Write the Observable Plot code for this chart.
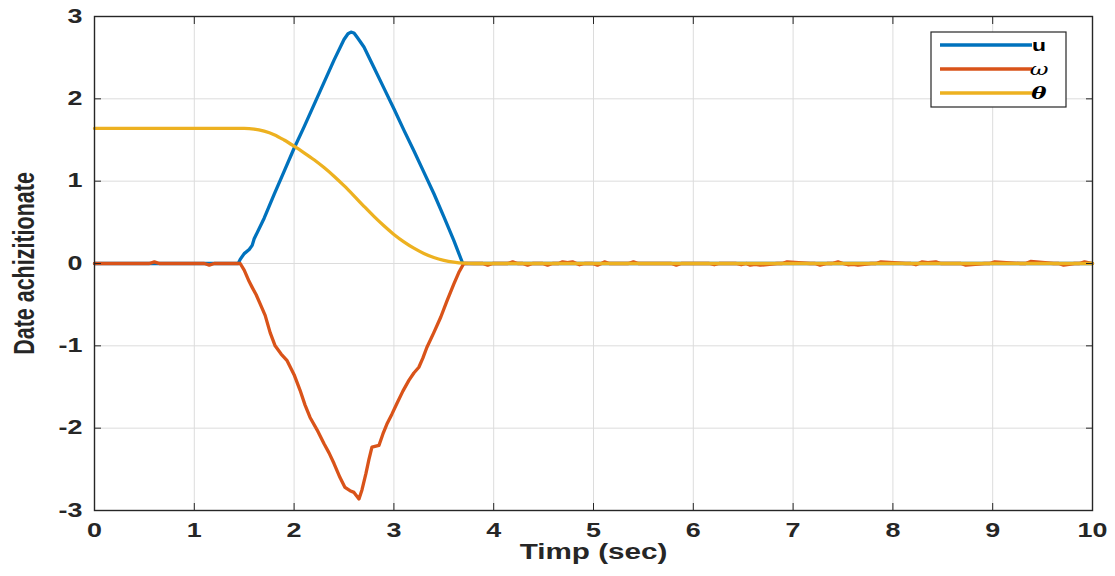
<!DOCTYPE html>
<html><head><meta charset="utf-8">
<script src="https://cdn.jsdelivr.net/npm/d3@7"></script>
<script src="https://cdn.jsdelivr.net/npm/@observablehq/plot@0.6"></script>
<style>
body{margin:0;background:#fff}
#chart{position:relative;width:1115px;height:576px}
</style>
</head><body><div id="chart"></div>
<script>
// ---- data ----
const xTicks = [0,1,2,3,4,5,6,7,8,9,10];
const yTicks = [-3,-2,-1,0,1,2,3];
const seriesNames = ["u","ω","θ"];
const seriesColors = ["#0072BD","#D95319","#EDB120"];

const uT = [0,1.44,1.46,1.50,1.55,1.58,1.60,1.70,1.80,1.90,2.00,2.10,2.20,2.30,2.40,2.50,2.54,2.57,2.60,2.63,2.66,2.70,2.80,2.90,3.00,3.10,3.20,3.30,3.40,3.50,3.60,3.69,10];
const uV = [0,0,0.05,0.12,0.17,0.22,0.30,0.55,0.84,1.12,1.40,1.66,1.93,2.20,2.47,2.72,2.79,2.81,2.80,2.75,2.70,2.63,2.38,2.13,1.88,1.62,1.37,1.11,0.85,0.57,0.28,0,0];

const wT = [0,0.55,0.60,0.65,1.10,1.15,1.20,1.44,1.46,1.50,1.55,1.58,1.62,1.66,1.71,1.76,1.81,1.87,1.93,2.00,2.06,2.11,2.16,2.23,2.30,2.35,2.40,2.46,2.51,2.56,2.60,2.65,2.68,2.72,2.75,2.78,2.85,2.89,2.93,2.98,3.03,3.09,3.15,3.20,3.25,3.29,3.33,3.40,3.47,3.53,3.60,3.65,3.70,
  3.89,3.94,3.99,4.14,4.19,4.24,4.29,4.34,4.39,4.49,4.54,4.59,4.65,4.69,4.74,4.79,4.83,4.86,4.91,4.99,5.04,5.08,5.11,5.16,5.35,5.40,5.45,5.78,5.83,5.88,6.16,6.21,6.26,6.43,6.48,6.53,6.57,6.62,6.67,6.84,6.89,6.94,7.17,7.22,7.27,7.34,7.39,7.45,7.50,7.55,7.60,7.65,7.78,7.83,7.88,8.13,8.18,8.23,8.26,8.29,8.35,8.43,8.48,8.63,8.68,8.73,8.92,8.97,9.02,9.28,9.33,9.38,9.61,9.66,9.71,9.82,9.87,9.92,10];
const wV = [0,0,0.02,0,0,-0.02,0,0,0.00,-0.08,-0.22,-0.29,-0.38,-0.49,-0.63,-0.84,-1.00,-1.10,-1.18,-1.35,-1.54,-1.72,-1.87,-2.02,-2.19,-2.30,-2.43,-2.60,-2.72,-2.76,-2.78,-2.86,-2.75,-2.55,-2.38,-2.23,-2.21,-2.07,-1.95,-1.83,-1.70,-1.55,-1.42,-1.33,-1.26,-1.15,-1.02,-0.84,-0.65,-0.46,-0.25,-0.11,0,
  0,-0.02,0,0,0.02,0,0,-0.02,0,0,-0.02,0,0,0.02,0.01,0.02,0,-0.015,0,0,-0.02,0,0.02,0,0,0.02,0,0,-0.02,0,0,-0.015,0,0,-0.015,0,-0.02,-0.01,-0.02,0,0,0.02,0,0,-0.02,0,0,0.02,0,-0.015,-0.01,-0.02,0,0,0.02,0,0,-0.015,0,0.02,0.01,0.02,0,0,0,-0.02,0,0,0.02,0,0,0.025,0,0,-0.02,0,0,0.02,0,0];

const thT = [0,1.50,1.60,1.70,1.80,1.90,2.00,2.10,2.20,2.30,2.40,2.50,2.60,2.70,2.80,2.90,3.00,3.10,3.20,3.30,3.40,3.50,3.60,3.70,3.80,10];
const thV = [1.64,1.64,1.633,1.608,1.565,1.50,1.425,1.345,1.26,1.165,1.06,0.945,0.822,0.695,0.572,0.458,0.353,0.263,0.186,0.122,0.073,0.039,0.017,0.004,0,0];

// ---- build tables ----
const mk = (T,V) => T.map((t,i) => ({t, v: V[i]}));
const uData = mk(uT,uV), wData = mk(wT,wV), thData = mk(thT,thV);

const font = "'Liberation Sans', Arial, sans-serif";
const chart = Plot.plot({
  width: 1115, height: 576,
  marginLeft: 94, marginRight: 23, marginTop: 16, marginBottom: 66,
  style: {fontFamily: font, background: "#fff", color: "#262626"},
  x: {domain: [0,10]},
  y: {domain: [-3,3]},
  marks: [
    Plot.gridX(xTicks, {stroke: "#dcdcdc", strokeOpacity: 1}),
    Plot.gridY(yTicks, {stroke: "#dcdcdc", strokeOpacity: 1}),
    Plot.line(uData, {x: "t", y: "v", stroke: seriesColors[0], strokeWidth: 3.3}),
    Plot.line(wData, {x: "t", y: "v", stroke: seriesColors[1], strokeWidth: 3.3}),
    Plot.line(thData, {x: "t", y: "v", stroke: seriesColors[2], strokeWidth: 3.3, curve: "monotone-x"}),
    Plot.frame({stroke: "#262626", strokeWidth: 1.4}),
    Plot.axisX(xTicks, {anchor: "bottom", tickSize: -7, tickPadding: 20, label: null, tickFormat: d => String(d), fontSize: 19.5, fontWeight: "bold"}),
    Plot.axisX(xTicks, {anchor: "top", tickSize: -7, label: null, tickFormat: () => ""}),
    Plot.axisY(yTicks, {anchor: "left", tickSize: -7, tickPadding: 19, label: null, tickFormat: d => String(d), fontSize: 19.5, fontWeight: "bold"}),
    Plot.axisY(yTicks, {anchor: "right", tickSize: -7, label: null, tickFormat: () => ""}),
    Plot.text(["Timp (sec)"], {frameAnchor: "bottom", lineAnchor: "middle", dy: 42, fontSize: 21.5, fontWeight: "bold", fill: "#262626", className: "xlab"}),
    Plot.text(["Date achizitionate"], {frameAnchor: "left", dx: -70, rotate: -90, textAnchor: "middle", fontSize: 21.5, fontWeight: "bold", fill: "#262626", className: "ylab"})
  ]
});
document.getElementById("chart").appendChild(chart);

// horizontal stretch of the reference's lettering
const svg = d3.select(chart);
function stretch(sel, s) {
  sel.each(function() {
    const t = this.getAttribute("transform");
    if (t) this.setAttribute("transform", t + " " + s);
  });
}
stretch(svg.selectAll('g[aria-label="x-axis tick label"] text, g[aria-label="y-axis tick label"] text, .xlab text'), "scale(1.38,1)");
stretch(svg.selectAll('.ylab text'), "scale(1,1.38)");

// ---- legend ----
const lg = svg.append("g").attr("transform", "translate(931,32)");
lg.append("rect").attr("width", 135).attr("height", 75).attr("fill", "#fff").attr("stroke", "#262626").attr("stroke-width", 1.2);
const labStyles = [{w:"bold", s:"normal"}, {w:"normal", s:"italic"}, {w:"bold", s:"italic"}];
seriesNames.forEach((n, i) => {
  const y = 13 + i * 24;
  lg.append("line").attr("x1", 9).attr("x2", 101).attr("y1", y).attr("y2", y).attr("stroke", seriesColors[i]).attr("stroke-width", 3.3);
  lg.append("text").attr("transform", `translate(108,${y}) scale(1.35,1)`).attr("dy", "0.35em").text(n)
    .attr("font-family", i === 0 ? font : "'DejaVu Serif', serif")
    .attr("font-size", 17).attr("font-weight", labStyles[i].w).attr("font-style", labStyles[i].s).attr("fill", "#000");
});
</script>
</body></html>
